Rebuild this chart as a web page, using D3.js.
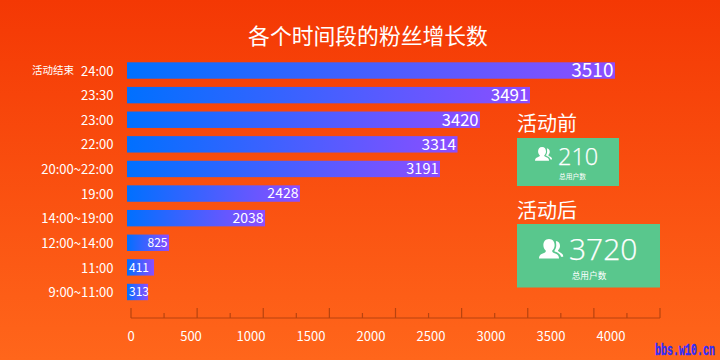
<!DOCTYPE html>
<html>
<head>
<meta charset="utf-8">
<script src="https://cdnjs.cloudflare.com/ajax/libs/d3/7.8.5/d3.min.js"></script>
<style>
  html, body { margin: 0; padding: 0; background: #f93f0a; }
  text { font-family: "Noto Sans CJK SC", "Noto Sans", sans-serif; fill: #fff; }
</style>
</head>
<body>
<div id="chart"></div>
<script>
// time slots, top to bottom
var slots = ["24:00", "23:30", "23:00", "22:00", "20:00~22:00", "19:00", "14:00~19:00", "12:00~14:00", "11:00", "9:00~11:00"];
// numbers printed on the bars
var printed = [3510, 3491, 3420, 3314, 3191, 2428, 2038, 825, 411, 313];
// how far each bar really reaches when read against the axis labels (the picture is not to scale)
var reach = [4033, 3325, 2908, 2721, 2575, 1408, 1117, 317, 192, 142];
var printedSize = [19, 17, 16.5, 15.5, 14.5, 14, 14, 12, 12, 12];
var printedAnchor = ["end", "end", "end", "end", "end", "end", "end", "end", "start", "start"];
var axisLabels = [0, 500, 1000, 1500, 2000, 2500, 3000, 3500, 4000];
var axisTicks = [0, 250, 500, 750, 1000, 1250, 1500, 1750, 2000, 2250, 2500, 2750, 3000, 3250, 3500, 3750, 4000];

var width = 720,
    height = 360;

var svg = d3.select("#chart")
  .append("svg")
    .attr("width", width)
    .attr("height", height)
    .style("display", "block");

var defs = svg.append("defs");

var bg = defs.append("linearGradient").attr("id", "bg")
    .attr("x1", 0).attr("y1", 0).attr("x2", 0).attr("y2", 1);
bg.append("stop").attr("offset", "0%").attr("stop-color", "#f43804");
bg.append("stop").attr("offset", "100%").attr("stop-color", "#ff661b");

var barFill = defs.append("linearGradient").attr("id", "barFill");
barFill.append("stop").attr("offset", "0%").attr("stop-color", "#0070ff");
barFill.append("stop").attr("offset", "100%").attr("stop-color", "#8c4eff");

svg.append("rect").attr("width", width).attr("height", height).attr("fill", "url(#bg)");

svg.append("text")
    .attr("x", 368).attr("y", 44)
    .attr("text-anchor", "middle")
    .style("font-size", "21.8px")
    .text("各个时间段的粉丝增长数");

// labels and bars share this scale, the tick marks are stretched wider
var x = d3.scaleLinear().domain([0, 4000]).range([131, 611]);
var xTicks = d3.scaleLinear().domain([0, 4000]).range([131, 660]);
var y = d3.scaleBand().domain(slots).range([62.3, 300.2]).paddingInner(0.333).paddingOuter(0);
var barStart = x(0) - 4;

var rows = d3.range(slots.length).map(function(i) {
  return { slot: slots[i], printed: printed[i], reach: reach[i], size: printedSize[i], anchor: printedAnchor[i] };
});

svg.append("g").selectAll("rect")
  .data(rows)
  .enter()
  .append("rect")
    .attr("x", barStart)
    .attr("y", function(d) { return y(d.slot); })
    .attr("width", function(d) { return x(d.reach) - barStart; })
    .attr("height", y.bandwidth())
    .attr("fill", "url(#barFill)");

svg.append("g").selectAll("text")
  .data(rows)
  .enter()
  .append("text")
    .attr("x", 113.5)
    .attr("y", function(d) { return y(d.slot) + y.bandwidth() / 2 + 0.6; })
    .attr("dy", "0.35em")
    .attr("text-anchor", "end")
    .style("font-size", "13px")
    .text(function(d) { return d.slot; });

svg.append("text")
    .attr("x", 74).attr("y", y(slots[0]) + y.bandwidth() / 2)
    .attr("dy", "0.35em")
    .attr("text-anchor", "end")
    .style("font-size", "10.5px")
    .text("活动结束");

svg.append("g").selectAll("text")
  .data(rows)
  .enter()
  .append("text")
    .attr("x", function(d) { return d.anchor === "end" ? x(d.reach) - 1.5 : barStart + 2; })
    .attr("y", function(d) { return y(d.slot) + y.bandwidth() / 2; })
    .attr("dy", "0.35em")
    .attr("text-anchor", function(d) { return d.anchor; })
    .style("font-size", function(d) { return d.size + "px"; })
    .text(function(d) { return d.printed; });

// axis: baseline and ticks
var axisY = 318;
var axisColor = "#b8430f";
svg.append("line")
    .attr("x1", xTicks(0)).attr("x2", xTicks(4000))
    .attr("y1", axisY).attr("y2", axisY)
    .attr("stroke", axisColor).attr("stroke-width", 1.2);
svg.append("g").selectAll("line")
  .data(axisTicks)
  .enter()
  .append("line")
    .attr("x1", function(d) { return xTicks(d); })
    .attr("x2", function(d) { return xTicks(d); })
    .attr("y1", function(d) { return d % 500 === 0 ? axisY - 10 : axisY - 5; })
    .attr("y2", axisY)
    .attr("stroke", axisColor).attr("stroke-width", 1.2);
svg.append("g").selectAll("text")
  .data(axisLabels)
  .enter()
  .append("text")
    .attr("x", function(d) { return x(d); })
    .attr("y", 341)
    .attr("text-anchor", "middle")
    .style("font-size", "13px")
    .text(function(d) { return d; });

// the two green cards
var userIcon = "M8 0C5 0 3.5 2.3 3.5 5C3.5 7 4.5 8.6 5.5 9.4C5.5 10.6 4.5 11 3 11.6C1 12.4 0 13.4 0 15.5L16 15.5C16 13.4 15 12.4 13 11.6C11.5 11 10.5 10.6 10.5 9.4C11.5 8.6 12.5 7 12.5 5C12.5 2.3 11 0 8 0Z"
  + "M13.5 1.5C15.6 1.8 16.8 3.3 16.8 5.5C16.8 7 16 8.3 15.2 9C15.2 10 16 10.3 17 10.8C18.6 11.5 19.4 12.5 19.4 14.2L17.6 14.2C17.2 12.4 15.8 11.2 13.8 10.4C12.8 10 12.2 9.8 12.2 9.5C13 8.6 13.8 7 13.8 5C13.8 3.6 13.6 2.5 13.5 1.5Z";

function card(c) {
  svg.append("text")
      .attr("x", c.left).attr("y", c.titleY)
      .style("font-size", "20px")
      .text(c.title);
  svg.append("rect")
      .attr("x", c.left).attr("y", c.top)
      .attr("width", c.w).attr("height", c.h)
      .attr("fill", "#59c78d");
  svg.append("path")
      .attr("d", userIcon)
      .attr("fill", "#fff")
      .attr("transform", "translate(" + c.iconX + "," + c.iconY + ") scale(" + c.iconScale + ")");
  svg.append("text")
      .attr("x", c.valueX).attr("y", c.valueY)
      .style("font-family", "'Open Sans'")
      .style("font-weight", 300)
      .style("font-size", c.valueSize + "px")
      .style("stroke", "#fff")
      .style("stroke-width", 0.25)
      .text(c.value);
  svg.append("text")
      .attr("x", c.noteX).attr("y", c.noteY)
      .attr("dy", "0.35em")
      .attr("text-anchor", "middle")
      .style("font-size", c.noteSize + "px")
      .text("总用户数");
}
card({ title: "活动前", value: 210, left: 517, top: 138, w: 102, h: 48, titleY: 131,
  valueX: 558, valueY: 165, valueSize: 23.5, noteX: 572.5, noteY: 176.7, noteSize: 6.8,
  iconX: 535, iconY: 147, iconScale: 0.88 });
card({ title: "活动后", value: 3720, left: 517, top: 224, w: 143, h: 63.5, titleY: 218,
  valueX: 569, valueY: 260, valueSize: 30, noteX: 589, noteY: 275.7, noteSize: 8.7,
  iconX: 539, iconY: 239, iconScale: 1.25 });

// forum watermark
svg.append("text")
    .attr("transform", "translate(715,355) scale(0.8,1.3)")
    .attr("text-anchor", "end")
    .style("font-family", "'Liberation Mono'")
    .style("font-weight", 700)
    .style("font-size", "12.5px")
    .style("fill", "#2d2dff")
    .style("stroke", "#2d2dff")
    .style("stroke-width", 0.3)
    .text("bbs.w10.cn");
</script>
</body>
</html>
